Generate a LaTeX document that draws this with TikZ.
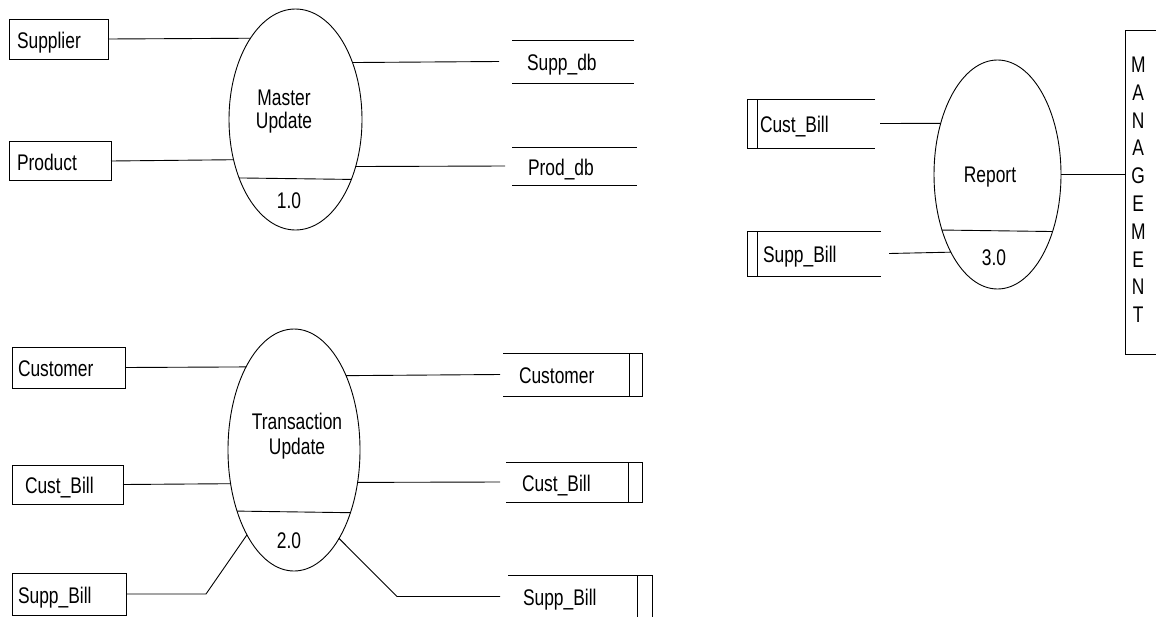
\documentclass[tikz,border=0pt]{standalone}
\usepackage{fontspec}
\setmainfont{Liberation Sans}
\usetikzlibrary{shapes.geometric,calc}
\newcommand\sx[1]{\scalebox{1}[1.3]{#1}}
\begin{document}
\begin{tikzpicture}[x=1pt,y=-1pt, line width=0.9pt,
  font=\fontsize{17.4}{17.7}\selectfont,
  lbl/.style={inner sep=0pt, text height=18pt, text depth=0pt},
  ent/.style={draw, anchor=west, align=left, inner ysep=0pt, outer sep=0pt, text height=18pt, text depth=0pt},
  store/.style={anchor=west, align=left, inner ysep=0pt, outer sep=0pt, text height=18pt, text depth=0pt},
  proc/.style={draw, ellipse, inner sep=0pt, outer sep=0pt}]
\useasboundingbox (0,0) rectangle (1156,616);

% external entities
\node[ent, inner xsep=8pt, text width=83pt, minimum height=40pt] (supplier) at (9,39) {\sx{Supplier}};
\node[ent, inner xsep=8pt, text width=86pt, minimum height=39pt] (product) at (9,161) {\sx{Product}};
\node[ent, inner xsep=6pt, text width=101pt, minimum height=41pt] (customer) at (12,367.5) {\sx{Customer}};
\node[ent, inner xsep=13pt, text width=85pt, minimum height=39pt] (custbillA) at (12,484.5) {\sx{Cust\_Bill}};
\node[ent, inner xsep=6pt, text width=102pt, minimum height=42pt] (suppbillA) at (12,594) {\sx{Supp\_Bill}};
\node[draw, anchor=north west, inner sep=0pt, outer sep=0pt, minimum height=324pt,
      font=\fontsize{17.4}{21.4}\selectfont] (mgmt) at (1125,30)
  {\sx{\begin{tabular}{@{\hspace{6pt}}c@{\hspace{20pt}}}M\\A\\N\\A\\G\\E\\M\\E\\N\\T\end{tabular}}};

% data stores
\node[store, inner xsep=15pt, text width=92pt, minimum height=43pt] (suppdb) at (512,61.5) {\sx{Supp\_db}};
\node[store, inner xsep=16pt, text width=93pt, minimum height=38pt] (proddb) at (512,166) {\sx{Prod\_db}};
\node[store, inner xsep=16pt, text width=107pt, minimum height=43pt] (customerS) at (503,374.5) {\sx{Customer}};
\node[store, inner xsep=16pt, text width=104pt, minimum height=40pt] (custbillS) at (506,482) {\sx{Cust\_Bill}};
\node[store, inner xsep=15pt, text width=114pt, minimum height=43pt] (suppbillS) at (508,596.5) {\sx{Supp\_Bill}};
\node[store, inner xsep=13pt, text width=102pt, minimum height=49pt] (custbillR) at (747,123.5) {\sx{Cust\_Bill}};
\node[store, inner xsep=16pt, text width=102pt, minimum height=45pt] (suppbillR) at (747,253.5) {\sx{Supp\_Bill}};

\draw (suppdb.north west) -- (suppdb.north east) (suppdb.south west) -- (suppdb.south east);
\draw (proddb.north west) -- (proddb.north east) (proddb.south west) -- (proddb.south east);
\draw (customerS.north west) -- (customerS.north east) -- (customerS.south east) -- (customerS.south west);
\draw ([xshift=-13pt]customerS.north east) -- ([xshift=-13pt]customerS.south east);
\draw (custbillS.north west) -- (custbillS.north east) -- (custbillS.south east) -- (custbillS.south west);
\draw ([xshift=-14pt]custbillS.north east) -- ([xshift=-14pt]custbillS.south east);
\draw (suppbillS.north west) -- (suppbillS.north east) -- (suppbillS.south east) -- (suppbillS.south west);
\draw ([xshift=-15pt]suppbillS.north east) -- ([xshift=-15pt]suppbillS.south east);
\draw (custbillR.north east) -- (custbillR.north west) -- (custbillR.south west) -- (custbillR.south east);
\draw ([xshift=10pt]custbillR.north west) -- ([xshift=10pt]custbillR.south west);
\draw (suppbillR.north east) -- (suppbillR.north west) -- (suppbillR.south west) -- (suppbillR.south east);
\draw ([xshift=10pt]suppbillR.north west) -- ([xshift=10pt]suppbillR.south west);

% processes
\node[proc, minimum width=133pt, minimum height=221pt] (e1) at (295.5,119.5) {};
\node[proc, minimum width=132pt, minimum height=242pt] (e2) at (294,450) {};
\node[proc, minimum width=127pt, minimum height=229pt] (e3) at (997.5,174.5) {};
\draw (e1.226.74) -- (e1.313.26);
\draw (e2.227.55) -- (e2.312.45);
\draw (e3.225.66) -- (e3.314.34);

\node[lbl] (t1) at (284,119.8) {\sx{\begin{tabular}[b]{@{}c@{}}Master\\Update\end{tabular}}};
\node[lbl, font=\fontsize{17.4}{19.2}\selectfont] (t2) at (297,445) {\sx{\begin{tabular}[b]{@{}c@{}}Transaction\\Update\end{tabular}}};
\node[lbl] (t3) at (990,173.8) {\sx{Report}};
\node[lbl] (n1) at (289,199.8) {\sx{1.0}};
\node[lbl] (n2) at (289,539) {\sx{2.0}};
\node[lbl] (n3) at (994,256) {\sx{3.0}};

% flows
\draw (supplier.east) -- (e1.119.5);
\draw (product.east) -- (e1.213.96);
\draw (e1.45.7) -- ([xshift=-13pt]suppdb.west);
\draw (e1.322.36) -- ([xshift=-7pt]proddb.west);
\draw (customer.east) -- (e2.120.35);
\draw (custbillA.east) -- (e2.208.6);
\draw (suppbillA.east) -- ++(80,0) -- (e2.241.65);
\draw (e2.55.65) -- ([xshift=-3pt]customerS.west);
\draw (e2.333.3) -- ([xshift=-6pt]custbillS.west);
\draw (e2.297.8) -- ([xshift=-111pt]suppbillS.west) -- ([xshift=-8pt]suppbillS.west);
\draw ([xshift=5pt]custbillR.east) -- (e3.138.1);
\draw ([xshift=8pt]suppbillR.east) -- (e3.239.81);
\draw (e3.east) -- (e3.east -| mgmt.west);
\end{tikzpicture}
\end{document}
